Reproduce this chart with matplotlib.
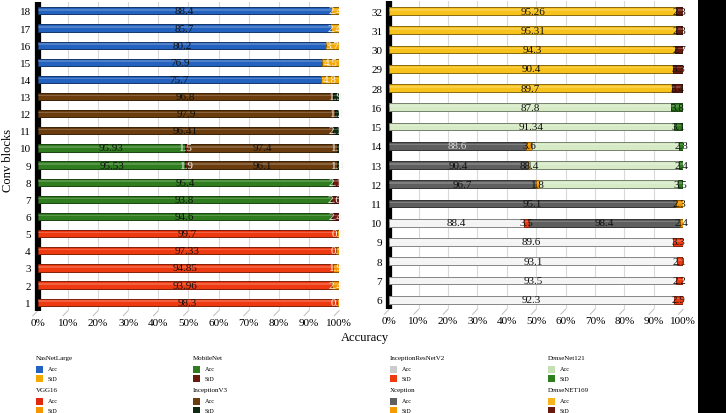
import matplotlib.pyplot as plt
from matplotlib.patches import Rectangle

plt.rcParams["font.family"] = ["Liberation Serif", "DejaVu Serif"]

# ---- left panel (conv blocks 1..18)
left_cats = [str(i) for i in range(1, 19)]

vgg16_rows = ["1", "2", "3", "4", "5"]
vgg16_acc = [98.3, 93.96, 94.85, 97.33, 99.7]
vgg16_std = [0.7, 2.4, 1.9, 0.9, 0.6]

mobilenet_rows = ["6", "7", "8", "9", "10"]
mobilenet_acc = [94.6, 93.8, 95.4, 95.53, 95.93]
mobilenet_std = [2.4, 2.6, 2.1, 1.9, 1.5]

inceptionv3_rows = ["9", "10", "11", "12", "13"]
inceptionv3_acc = [96.1, 97.4, 96.41, 97.9, 96.8]
inceptionv3_std = [1.4, 1.3, 2.1, 1.2, 1.9]

nasnet_rows = ["14", "15", "16", "17", "18"]
nasnet_acc = [75.7, 76.9, 80.2, 85.7, 88.4]
nasnet_std = [4.8, 4.5, 3.7, 2.4, 2.4]

# ---- right panel
right_cats = ["6", "7", "8", "9", "10", "11", "12", "13", "14", "15", "16",
              "28", "29", "30", "31", "32"]

incresnet_rows = ["6", "7", "8", "9", "10"]
incresnet_acc = [92.3, 93.5, 93.1, 89.6, 88.4]
incresnet_std = [2.9, 2.2, 2.1, 3.3, 3.5]

xception_rows = ["10", "11", "12", "13", "14"]
xception_acc = [98.4, 95.1, 96.7, 90.4, 88.6]
xception_std = [2.4, 2.3, 1.8, 1.0, 3.6]
xception_std_text = ["2.4", "2.3", "1.8", "88.4", "3.6"]  # as printed in the source

densenet121_rows = ["12", "13", "14", "15", "16"]
densenet121_acc = [91.0, 97.0, 95.0, 91.34, 87.8]
densenet121_acc_text = [None, None, None, "91.34", "87.8"]
densenet121_std = [3.5, 2.4, 2.8, 3.1, 3.8]

densenet169_rows = ["28", "29", "30", "31", "32"]
densenet169_acc = [89.7, 90.4, 94.3, 95.31, 95.26]
densenet169_std = [3.4, 3.3, 2.7, 2.3, 2.3]


def fmt(vals):
    return ["%g" % v for v in vals]


# name, rows, acc, std, acc colour, std colour, acc text, std text, std text colour
left_models = [
    ("VGG16", vgg16_rows, vgg16_acc, vgg16_std, "#ee3a10", "#f59500",
     fmt(vgg16_acc), fmt(vgg16_std), "#fff4e0"),
    ("MobileNet", mobilenet_rows, mobilenet_acc, mobilenet_std, "#2f7d1e", "#6a1a0c",
     fmt(mobilenet_acc), fmt(mobilenet_std), "#f0f0f0"),
    ("InceptionV3", inceptionv3_rows, inceptionv3_acc, inceptionv3_std, "#6b3d0e", "#0f2a12",
     fmt(inceptionv3_acc), fmt(inceptionv3_std), "#f0f0f0"),
    ("NasNetLarge", nasnet_rows, nasnet_acc, nasnet_std, "#2462bf", "#f5a800",
     fmt(nasnet_acc), fmt(nasnet_std), "#f5f5f5"),
]
right_models = [
    ("InceptionResNetV2", incresnet_rows, incresnet_acc, incresnet_std, "#f4f4f4", "#ee3a10",
     fmt(incresnet_acc), fmt(incresnet_std), "#111111"),
    ("Xception", xception_rows, xception_acc, xception_std, "#5f5f5f", "#f59a00",
     fmt(xception_acc), xception_std_text, "#111111"),
    ("DenseNet121", densenet121_rows, densenet121_acc, densenet121_std, "#d6eac6", "#2f7d1e",
     densenet121_acc_text, fmt(densenet121_std), "#111111"),
    ("DenseNET169", densenet169_rows, densenet169_acc, densenet169_std, "#f8c21c", "#6a1a0c",
     fmt(densenet169_acc), fmt(densenet169_std), "#111111"),
]

legend_cols = [
    [("NasNetLarge", "#2462bf", "#f5a800"), ("VGG16", "#e02a10", "#f59500")],
    [("MobileNet", "#2f7d1e", "#6a1a0c"), ("InceptionV3", "#6b3d0e", "#0f2a12")],
    [("InceptionResNetV2", "#cccccc", "#ee3a10"), ("Xception", "#5f5f5f", "#f59a00")],
    [("DenseNet121", "#c5e0b3", "#2f7d1e"), ("DenseNET169", "#f8b41c", "#6a1a0c")],
]

W, H = 726, 414
fig = plt.figure(figsize=(W / 100, H / 100), dpi=100)


def darker(c, f=0.6):
    import matplotlib.colors as mc
    r, g, b = mc.to_rgb(c)
    return (r * f, g * f, b * f)


def draw_panel(ax, cats, models, bar_h):
    ypos = {c: i for i, c in enumerate(cats)}
    for cat in cats:
        segs = []
        for m in models:
            if cat in m[1]:
                k = m[1].index(cat)
                segs.append((m[2][k], m[4], m[6][k], "#111111"))
                segs.append((m[3][k], m[5], m[7][k], m[8]))
        total = sum(s[0] for s in segs)
        left = 0.0
        y = ypos[cat]
        for val, col, txt, tcol in segs:
            w = val / total * 100
            ax.barh(y, w, left=left, height=bar_h, color=col,
                    edgecolor=darker(col, 0.55), linewidth=0.7, zorder=3)
            # light highlight strip for a cylinder look
            ax.barh(y + bar_h * 0.15, w, left=left, height=bar_h * 0.2,
                    color="white", alpha=0.2, linewidth=0, zorder=4)
            if txt:
                c = tcol
                if col == "#5f5f5f" and txt == "88.6":
                    c = "#d8d8d8"
                ax.text(left + w / 2, y, txt, ha="center", va="center",
                        fontsize=8, color=c, zorder=5)
            left += w

    ax.set_xlim(0, 100)
    ax.set_ylim(-0.5, len(cats) - 0.5)
    ax.set_yticks(range(len(cats)))
    ax.set_yticklabels(cats, fontsize=8)
    ax.set_xticks(range(0, 101, 10))
    ax.set_xticklabels(["%d%%" % v for v in range(0, 101, 10)], fontsize=8)
    ax.tick_params(axis="x", length=0, pad=5)
    ax.tick_params(axis="y", length=0, pad=5)
    ax.grid(axis="x", color="#d9d9d9", linewidth=0.8, zorder=0)
    for s in ax.spines.values():
        s.set_visible(False)
    # black side wall
    ax.plot([0, 0], [-0.5, len(cats) - 0.5], color="black", linewidth=4.5,
            solid_capstyle="butt", zorder=2, clip_on=False)
    # slanted floor marks
    for v in range(0, 101, 10):
        ax.plot([v, v - 1.6], [-0.5, -0.5 - len(cats) * 0.016], color="#bbbbbb",
                linewidth=0.7, clip_on=False, zorder=1)


ax1 = fig.add_axes([0.052, 0.247, 0.415, 0.745])
draw_panel(ax1, left_cats, left_models, 0.42)

ax2 = fig.add_axes([0.536, 0.2505, 0.405, 0.7435])
draw_panel(ax2, right_cats, right_models, 0.40)

fig.text(8 / W, 1 - 160 / H, "Conv blocks", rotation=90, ha="center", va="center", fontsize=9)
fig.text(365 / W, 1 - 338 / H, "Accuracy", ha="center", va="center", fontsize=9)

# legend, drawn by hand in four columns
col_x = [36, 193, 390, 548]
for cx, groups in zip(col_x, legend_cols):
    for gi, (name, ca, cs) in enumerate(groups):
        y0 = 359 + gi * 32
        fig.text(cx / W, 1 - y0 / H, name, fontsize=5, ha="left", va="center")
        for j, (lab, c) in enumerate([("Acc", ca), ("StD", cs)]):
            yy = y0 + 11 + j * 9.5
            fig.patches.append(Rectangle((cx / W, 1 - (yy + 3.5) / H), 7 / W, 7 / H,
                                         transform=fig.transFigure, facecolor=c,
                                         edgecolor="none"))
            fig.text((cx + 12) / W, 1 - yy / H, lab, fontsize=4.5, ha="left", va="center")

# black strip on the right edge
fig.patches.append(Rectangle((698 / W, 0), 28 / W, 1, transform=fig.transFigure,
                             facecolor="black", edgecolor="none"))

fig.savefig("out.png", dpi=100)
